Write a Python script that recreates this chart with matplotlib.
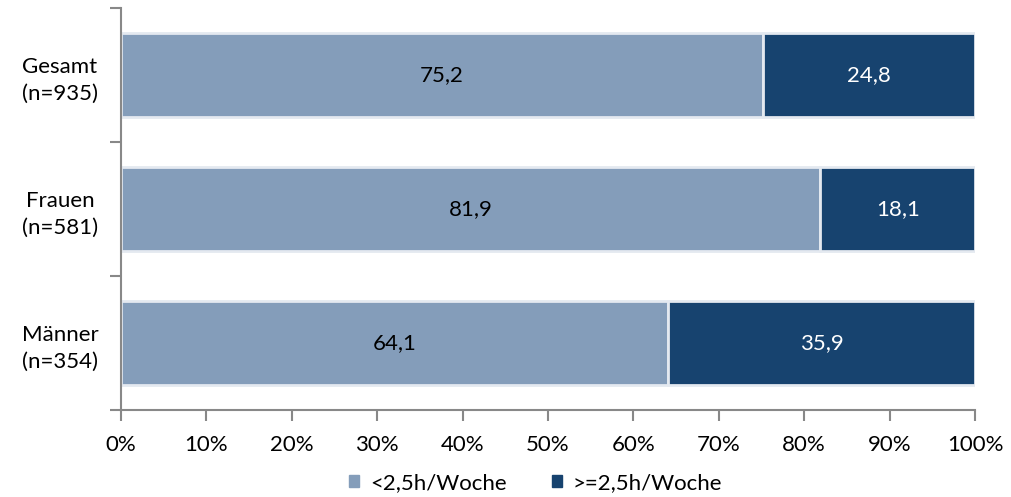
import matplotlib.pyplot as plt
import numpy as np

plt.rcParams['font.family'] = ['Lato', 'DejaVu Sans']

categories = ['Gesamt\n(n=935)', 'Frauen\n(n=581)', 'Männer\n(n=354)']
low = [75.2, 81.9, 64.1]
high = [24.8, 18.1, 35.9]
series_names = ['<2,5h/Woche', '>=2,5h/Woche']
colors = ['#849DBA', '#17436F']

fig = plt.figure(figsize=(10.11, 4.97), dpi=100)
ax = fig.add_axes([0.1197, 0.175, 0.8447, 0.809])

y = np.arange(len(categories))[::-1]
b1 = ax.barh(y, low, height=0.63, color=colors[0], edgecolor='#E4E9F0', linewidth=2, label=series_names[0])
b2 = ax.barh(y, high, left=low, height=0.63, color=colors[1], edgecolor='#E4E9F0', linewidth=2, label=series_names[1])

for i in range(len(categories)):
    ax.text(low[i] / 2, y[i], ('%.1f' % low[i]).replace('.', ','), ha='center', va='center',
            fontsize=16, color='black')
    ax.text(low[i] + high[i] / 2, y[i], ('%.1f' % high[i]).replace('.', ','), ha='center', va='center',
            fontsize=16, color='white')

ax.set_xlim(0, 100)
ax.set_ylim(-0.5, 2.5)
ax.set_xticks(np.arange(0, 101, 10))
ax.set_xticklabels(['%d%%' % v for v in range(0, 101, 10)], fontsize=16)
ax.set_yticks([-0.5, 0.5, 1.5, 2.5])
ax.set_yticklabels([])
ax.set_yticks(y, minor=True)
ax.set_yticklabels(categories, minor=True, fontsize=16, ha='center', linespacing=1.45)
ax.tick_params(axis='y', which='minor', length=0, pad=44)
ax.tick_params(axis='y', which='major', length=8, color='#888888', width=1.5)
ax.tick_params(axis='x', length=8, color='#888888', width=1.5, pad=10)

for s in ['top', 'right']:
    ax.spines[s].set_visible(False)
for s in ['left', 'bottom']:
    ax.spines[s].set_color('#888888')
    ax.spines[s].set_linewidth(1.5)

legend_handles = [plt.Rectangle((0, 0), 1, 1, color=c) for c in colors]
fig.legend(handles=legend_handles, labels=series_names, loc='center', bbox_to_anchor=(0.53, 0.028),
           ncol=2, frameon=False, fontsize=16, handlelength=0.45, handleheight=0.45,
           columnspacing=2.0, handletextpad=0.5)

fig.savefig('out.png', dpi=100)
